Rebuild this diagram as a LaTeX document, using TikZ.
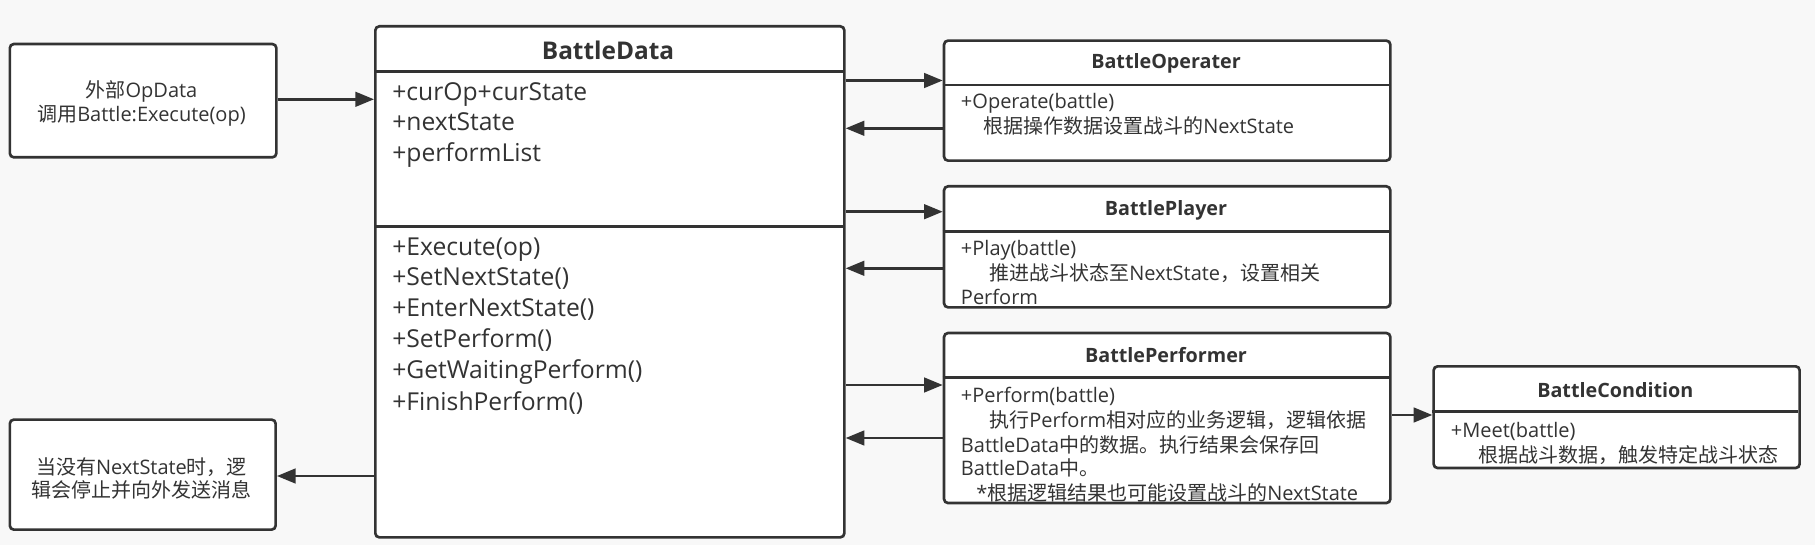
\documentclass[tikz,border=0pt]{standalone}
\usepackage{fontspec}
\setmainfont{Open Sans}
\newfontfamily\cjkf{Noto Sans CJK SC}
\newcommand{\zw}[1]{{\cjkf #1}}
\usetikzlibrary{arrows.meta}
\definecolor{ink}{HTML}{333333}
\definecolor{bg}{RGB}{248,248,248}
\tikzset{
  box/.style={draw=ink, fill=white, line width=2pt, rounded corners=3pt, anchor=north west, inner sep=0pt},
  divider/.style={draw=ink, line width=2pt},
  arr/.style={draw=ink, line width=1.9pt, -{Triangle[length=14pt,width=11pt]}},
  bigtitle/.style={font=\fontsize{18.3}{21}\selectfont\bfseries, text=ink, inner sep=0pt},
  title/.style={font=\fontsize{14.8}{18}\selectfont\bfseries, text=ink, inner sep=0pt},
  bigtxt/.style={font=\fontsize{18.5}{21}\selectfont, text=ink, inner sep=0pt, anchor=base west},
  txt/.style={font=\fontsize{15}{17}\selectfont, text=ink, inner sep=0pt, anchor=base west},
  ctxt/.style={font=\fontsize{15}{17.5}\selectfont, text=ink, inner sep=0pt, align=center},
}
\begin{document}
\begin{tikzpicture}[x=0.75pt,y=-0.75pt]
\fill[bg] (0,0) rectangle (1815,545);
\useasboundingbox (0,0) rectangle (1815,545);

% left boxes
\node[box, minimum width=266.5*0.75pt, minimum height=113.3*0.75pt] (in) at (8.5,42.7) {};
\node[ctxt] (intext) at (141.5,103.3) {\zw{外部}OpData\\\zw{调用}Battle:Execute(op)};
\node[box, minimum width=265.8*0.75pt, minimum height=110*0.75pt] (out) at (8.5,418.3) {};
\node[ctxt] (outtext) at (141.5,478.3) {\zw{当没有}NextState\zw{时，逻}\\\zw{辑会停止并向外发送消息}};

% BattleData
\node[box, minimum width=469*0.75pt, minimum height=511*0.75pt] (bd) at (374,25) {};
\draw[divider] (374,71.7) -- (843,71.7);
\draw[divider] (374,226.7) -- (843,226.7);
\node[bigtitle] (bdt) at (608,50) {BattleData};
\node[bigtxt] (a1) at (392,100.4) {+curOp+curState};
\node[bigtxt] (a2) at (392,130.4) {+nextState};
\node[bigtxt] (a3) at (392,161.7) {+performList};
\node[bigtxt] (m1) at (392,255.4) {+Execute(op)};
\node[bigtxt] (m2) at (392,285.7) {+SetNextState()};
\node[bigtxt] (m3) at (392,316.7) {+EnterNextState()};
\node[bigtxt] (m4) at (392,347.7) {+SetPerform()};
\node[bigtxt] (m5) at (392,378.7) {+GetWaitingPerform()};
\node[bigtxt] (m6) at (392,410.4) {+FinishPerform()};

% BattleOperater
\node[box, minimum width=446.3*0.75pt, minimum height=120*0.75pt] (op) at (942.7,39.3) {};
\draw[divider] (942.7,85) -- (1389,85);
\node[title] (opt) at (1166,63.5) {BattleOperater};
\node[txt] (o1) at (960.7,109) {+Operate(battle)};
\node[txt] (o2) at (983,134) {\zw{根据操作数据设置战斗的}NextState};

% BattlePlayer
\node[box, minimum width=446.3*0.75pt, minimum height=121*0.75pt] (pl) at (942.7,185) {};
\draw[divider] (942.7,231.7) -- (1389,231.7);
\node[title] (plt) at (1166,210) {BattlePlayer};
\node[txt] (p1) at (960.7,255.6) {+Play(battle)};
\node[txt] (p2) at (989,280) {\zw{推进战斗状态至}NextState\zw{，设置相关}};
\node[txt] (p3) at (960.7,304) {Perform};

% BattlePerformer
\node[box, minimum width=446.3*0.75pt, minimum height=170*0.75pt] (pf) at (942.7,331.7) {};
\draw[divider] (942.7,377.3) -- (1389,377.3);
\node[title] (pft) at (1166,355) {BattlePerformer};
\node[txt] (f1) at (960.7,402.3) {+Perform(battle)};
\node[txt] (f2) at (989,427.3) {\zw{执行}Perform\zw{相对应的业务逻辑，逻辑依据}};
\node[txt] (f3) at (960.7,452.3) {BattleData\zw{中的数据。执行结果会保存回}};
\node[txt] (f4) at (960.7,475.6) {BattleData\zw{中。}};
\node[txt] (f5) at (976,500) {*\zw{根据逻辑结果也可能设置战斗的}NextState};

% BattleCondition
\node[box, minimum width=366*0.75pt, minimum height=101.7*0.75pt] (bc) at (1432.3,365) {};
\draw[divider] (1432.3,411.7) -- (1798.3,411.7);
\node[title] (bct) at (1615.3,390) {BattleCondition};
\node[txt] (c1) at (1450.7,437.3) {+Meet(battle)};
\node[txt] (c2) at (1478,462.3) {\zw{根据战斗数据，触发特定战斗状态}};

% connectors
\draw[arr] (in.east |- 0,99.3) -- (bd.west |- 0,99.3);
\draw[arr] (bd.west |- 0,476) -- (out.east |- 0,476);
\draw[arr] (bd.east |- 0,80.5) -- (op.west |- 0,80.5);
\draw[arr] (op.west |- 0,128.3) -- (bd.east |- 0,128.3);
\draw[arr] (bd.east |- 0,211.7) -- (pl.west |- 0,211.7);
\draw[arr] (pl.west |- 0,268.3) -- (bd.east |- 0,268.3);
\draw[arr] (bd.east |- 0,385) -- (pf.west |- 0,385);
\draw[arr] (pf.west |- 0,438) -- (bd.east |- 0,438);
\draw[arr] (pf.east |- 0,415) -- (bc.west |- 0,415);
\end{tikzpicture}
\end{document}
